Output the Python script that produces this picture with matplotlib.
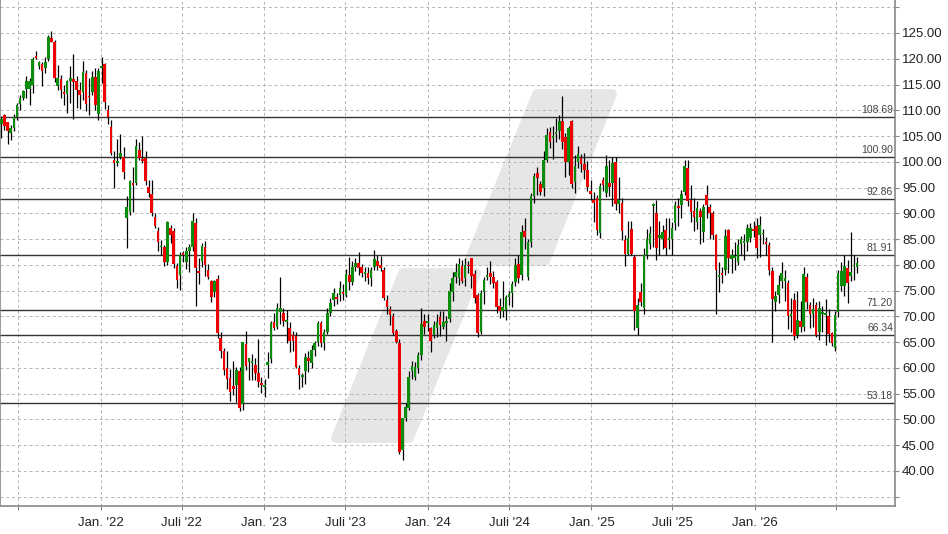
import numpy as np
import pandas as pd
import matplotlib
matplotlib.use('Agg')
import matplotlib.pyplot as plt
import matplotlib.dates as mdates
from matplotlib.patches import Polygon

# weekly OHLC
opens = [107.4, 109.1, 107.7, 105.5, 106.6, 108.7, 111.3, 112.3, 114.1, 114.1,
         114.9, 120.5, 118.5, 119.0, 118.3, 120.0, 124.1, 123.3, 114.8, 116.0,
         113.6, 113.2, 115.6, 116.1, 115.6, 113.9, 113.6, 117.3, 112.8, 113.6,
         116.5, 109.2, 118.3, 119.0, 110.1, 106.8, 100.4, 99.8, 100.9, 101.0,
         89.0, 90.3, 95.9, 95.8, 102.3, 100.6, 100.8, 95.1, 93.8, 89.2,
         86.5, 83.4, 83.4, 80.5, 87.1, 86.6, 79.7, 78.0, 82.2, 80.6,
         82.6, 83.5, 88.1, 78.9, 80.8, 83.5, 79.0, 76.9, 74.7, 77.3,
         65.9, 63.2, 59.9, 58.0, 56.5, 56.7, 59.4, 52.9, 64.6, 61.2,
         61.0, 60.6, 59.0, 57.0, 56.2, 60.6, 61.7, 69.0, 68.0, 70.8,
         70.6, 69.0, 67.8, 66.3, 66.1, 59.9, 58.3, 59.4, 61.9, 61.0,
         63.5, 65.1, 68.7, 64.8, 67.0, 70.6, 73.2, 73.8, 74.2, 74.8,
         74.2, 78.0, 76.6, 79.5, 80.4, 79.5, 78.2, 78.4, 77.5, 79.5,
         80.8, 80.0, 79.0, 73.2, 71.4, 70.1, 67.2, 64.9, 44.1, 50.2,
         52.3, 59.4, 58.3, 59.9, 62.6, 69.1, 68.75, 67.7, 66.4, 67.7,
         69.8, 68.0, 68.7, 69.4, 74.8, 77.6, 77.4, 79.7, 77.4, 80.0,
         81.3, 78.2, 74.2, 67.0, 74.8, 77.7, 78.4, 77.6, 76.6, 72.1,
         71.0, 71.2, 73.7, 74.5, 76.6, 80.1, 78.0, 86.6, 77.7, 84.5,
         93.4, 97.9, 95.7, 95.0, 100.4, 105.7, 104.7, 105.3, 105.9, 107.9,
         104.9, 100.0, 107.9, 96.0, 99.9, 100.8, 99.6, 98.4, 94.3, 92.6,
         92.9, 86.2, 96.5, 94.0, 95.9, 95.8, 100.0, 91.9, 92.1, 84.8,
         82.2, 87.0, 81.5, 67.8, 74.7, 71.7, 82.0, 84.0, 91.5, 90.1,
         85.2, 85.0, 86.8, 84.8, 85.0, 88.1, 91.5, 91.7, 94.2, 98.7,
         92.6, 90.5, 88.4, 90.5, 86.3, 93.6, 91.3, 90.0, 85.8, 77.7,
         78.4, 79.0, 86.8, 81.1, 81.3, 80.6, 84.0, 84.2, 84.5, 85.3,
         87.0, 87.6, 85.8, 85.9, 84.2, 83.9, 78.9, 72.7, 74.2, 76.9,
         76.9, 76.4, 70.1, 73.2, 66.4, 69.1, 68.0, 77.7, 72.3, 70.4,
         72.2, 67.0, 70.4, 70.3, 70.1, 66.7, 63.9, 70.9, 75.8, 75.8,
         79.3, 77.9, 79.7, 79.5]

highs = [108.8, 109.2, 107.8, 107.2, 109.2, 111.5, 113.0, 113.9, 116.7, 116.2,
         120.4, 121.5, 119.5, 119.3, 120.4, 124.6, 125.4, 123.6, 118.8, 116.9,
         114.9, 115.9, 118.5, 120.9, 116.7, 115.4, 119.6, 117.8, 116.3, 117.6,
         118.3, 118.2, 120.4, 119.1, 111.1, 108.1, 102.0, 104.4, 105.3, 102.8,
         93.4, 96.5, 98.9, 104.4, 103.9, 105.1, 102.0, 96.5, 96.5, 90.0,
         87.4, 84.8, 83.8, 88.6, 87.7, 87.2, 80.3, 82.5, 82.6, 83.5,
         84.0, 90.1, 89.0, 81.3, 84.3, 84.6, 80.2, 77.0, 77.0, 78.0,
         66.9, 63.8, 63.2, 59.7, 61.3, 60.2, 60.2, 65.1, 67.1, 62.0,
         62.7, 61.9, 65.6, 58.3, 57.9, 63.1, 69.2, 70.6, 72.5, 77.6,
         71.7, 71.3, 68.9, 67.2, 66.9, 60.6, 59.0, 62.8, 63.3, 64.5,
         65.2, 69.2, 69.2, 67.5, 71.6, 73.5, 75.6, 74.5, 76.8, 76.2,
         79.1, 81.6, 80.8, 81.3, 82.4, 80.2, 79.6, 79.6, 79.6, 82.8,
         82.0, 81.8, 79.6, 74.1, 72.0, 70.6, 67.6, 65.6, 50.2, 53.2,
         59.4, 61.4, 61.2, 63.0, 71.6, 70.4, 70.4, 68.0, 69.2, 70.4,
         71.1, 71.1, 70.1, 76.4, 78.6, 80.3, 81.3, 81.0, 81.3, 80.8,
         81.3, 79.0, 74.5, 75.1, 77.6, 79.6, 80.8, 78.9, 77.0, 73.5,
         76.8, 74.2, 75.0, 76.8, 81.3, 82.0, 87.8, 89.0, 85.0, 93.9,
         97.9, 99.0, 96.2, 102.0, 106.5, 106.7, 107.0, 108.5, 109.0, 112.7,
         105.6, 107.0, 108.2, 101.3, 103.1, 101.5, 101.7, 100.1, 96.5, 94.1,
         93.6, 95.8, 97.0, 101.3, 100.3, 101.0, 101.0, 97.0, 93.0, 85.8,
         88.5, 88.5, 82.0, 73.5, 76.4, 83.3, 87.0, 87.5, 92.0, 92.6,
         88.5, 87.8, 89.0, 89.0, 88.3, 92.3, 93.0, 94.5, 100.3, 100.3,
         95.5, 92.9, 92.3, 91.0, 91.8, 95.5, 91.8, 90.5, 86.0, 80.5,
         79.5, 86.9, 87.0, 83.0, 84.5, 85.0, 85.6, 86.0, 87.9, 88.1,
         88.5, 89.0, 89.4, 87.0, 85.5, 84.5, 79.5, 75.0, 78.0, 80.5,
         79.0, 77.0, 73.5, 74.5, 75.0, 73.0, 79.5, 78.5, 72.8, 73.5,
         72.8, 73.0, 72.0, 73.4, 71.5, 67.0, 71.0, 79.0, 80.5, 82.0,
         81.0, 86.4, 82.0, 81.5]

lows = [104.7, 106.2, 103.4, 104.2, 106.0, 108.1, 110.1, 112.0, 112.3, 111.0,
        113.3, 120.0, 118.0, 114.8, 117.2, 119.5, 123.2, 115.4, 114.0, 112.3,
        111.0, 109.4, 111.4, 108.3, 110.4, 110.3, 112.0, 109.9, 109.1, 113.0,
        110.1, 108.1, 115.2, 110.2, 107.3, 101.3, 94.9, 99.1, 100.5, 96.7,
        83.3, 89.7, 90.3, 95.5, 100.4, 99.7, 95.5, 93.2, 89.4, 87.1,
        82.6, 81.9, 79.8, 80.0, 84.2, 79.4, 75.6, 75.1, 80.5, 79.1,
        78.7, 82.6, 72.0, 76.2, 79.6, 77.8, 77.3, 72.7, 73.8, 65.9,
        62.0, 58.6, 56.0, 53.5, 54.8, 53.3, 51.7, 51.9, 59.6, 57.6,
        57.7, 57.6, 56.3, 55.2, 54.4, 58.0, 61.0, 67.3, 67.5, 68.5,
        68.2, 64.8, 63.0, 63.2, 60.0, 56.0, 56.3, 56.9, 59.2, 59.9,
        62.4, 64.3, 64.0, 63.5, 66.5, 70.0, 72.1, 72.4, 73.0, 73.1,
        73.8, 75.1, 76.0, 78.9, 78.0, 77.6, 76.9, 76.2, 75.9, 79.0,
        79.0, 78.9, 73.2, 70.5, 68.4, 66.3, 64.9, 43.2, 42.1, 49.6,
        51.9, 57.9, 57.7, 59.0, 61.5, 66.6, 67.1, 63.0, 65.9, 66.0,
        66.2, 67.5, 65.3, 69.0, 73.0, 76.4, 76.0, 76.4, 75.9, 78.5,
        75.5, 72.5, 66.0, 66.5, 72.4, 77.0, 76.3, 75.5, 70.6, 69.7,
        69.9, 69.3, 72.3, 71.8, 75.9, 76.5, 77.0, 83.0, 77.0, 83.4,
        92.1, 93.6, 93.5, 93.4, 99.9, 102.6, 100.5, 103.8, 104.4, 102.4,
        97.0, 97.5, 95.0, 93.9, 98.8, 98.0, 96.6, 94.4, 92.5, 88.4,
        85.8, 85.3, 94.4, 93.2, 93.4, 91.5, 90.6, 90.0, 84.9, 79.7,
        82.0, 82.0, 67.4, 66.4, 72.0, 70.5, 81.2, 83.0, 83.5, 81.0,
        82.0, 83.0, 82.0, 83.0, 82.0, 86.7, 87.5, 89.0, 93.5, 91.5,
        88.3, 86.5, 86.9, 84.0, 84.5, 89.0, 85.0, 85.0, 70.5, 74.8,
        76.5, 78.0, 78.4, 78.4, 79.0, 80.0, 82.0, 81.0, 82.6, 84.5,
        85.5, 81.3, 81.6, 84.0, 82.0, 78.0, 65.1, 71.0, 72.5, 75.5,
        73.0, 67.5, 67.0, 65.5, 65.8, 67.0, 67.2, 71.5, 67.7, 68.0,
        66.0, 65.4, 67.0, 64.5, 65.0, 64.3, 63.3, 69.8, 75.0, 74.0,
        72.5, 76.8, 77.0, 78.5]

closes = [108.4, 107.0, 105.9, 106.5, 108.6, 111.0, 112.3, 113.7, 115.6, 115.7,
          120.0, 120.1, 119.3, 117.7, 119.4, 124.3, 123.3, 116.2, 116.2, 113.9,
          113.2, 115.7, 116.2, 115.4, 113.9, 113.0, 117.5, 111.2, 112.5, 116.5,
          111.0, 117.6, 118.5, 111.6, 108.7, 101.7, 99.7, 100.2, 101.7, 98.0,
          91.3, 96.3, 95.5, 103.1, 100.8, 100.2, 96.2, 93.9, 90.0, 87.6,
          84.5, 83.7, 80.5, 88.3, 85.8, 80.2, 77.1, 81.9, 81.9, 82.7,
          83.4, 88.5, 79.3, 78.5, 83.7, 80.0, 77.7, 73.8, 76.9, 66.7,
          63.2, 59.6, 57.8, 55.3, 55.9, 59.6, 52.3, 65.1, 60.4, 61.9,
          61.2, 59.0, 57.3, 56.6, 56.7, 61.2, 68.8, 67.8, 71.6, 71.6,
          69.1, 69.3, 65.3, 65.3, 60.2, 58.7, 58.6, 62.1, 61.4, 63.5,
          64.9, 68.7, 64.8, 67.0, 70.6, 72.5, 74.5, 73.4, 75.5, 74.3,
          78.2, 76.6, 79.5, 80.3, 79.3, 78.4, 78.4, 77.4, 79.0, 81.2,
          79.8, 79.3, 73.5, 71.9, 70.3, 66.7, 65.1, 43.6, 50.2, 52.5,
          58.2, 60.4, 60.2, 62.6, 68.5, 68.0, 69.0, 65.2, 68.3, 69.0,
          68.3, 69.0, 69.1, 75.0, 77.5, 78.7, 80.1, 76.9, 80.0, 79.7,
          77.9, 73.6, 66.7, 74.5, 77.1, 78.0, 77.7, 76.4, 71.9, 71.1,
          71.9, 73.8, 74.3, 76.2, 80.0, 77.5, 86.4, 85.5, 84.5, 93.4,
          97.3, 96.8, 94.2, 100.4, 105.2, 103.9, 105.1, 105.7, 107.9, 103.8,
          99.9, 106.5, 95.7, 99.2, 101.5, 99.6, 98.4, 95.2, 93.8, 92.1,
          86.8, 95.3, 95.4, 99.2, 95.2, 99.8, 91.8, 92.5, 86.5, 82.2,
          85.3, 82.2, 71.1, 72.3, 72.7, 82.0, 85.0, 86.1, 91.8, 83.2,
          85.7, 86.4, 83.2, 85.2, 87.1, 91.7, 91.1, 93.7, 99.2, 92.3,
          90.3, 89.2, 91.0, 89.2, 91.3, 91.6, 90.0, 85.8, 79.0, 78.1,
          78.1, 85.6, 81.3, 81.9, 81.8, 83.9, 85.0, 84.5, 87.1, 87.2,
          86.6, 83.2, 87.7, 86.1, 84.0, 79.0, 73.4, 74.0, 76.1, 78.5,
          77.4, 70.1, 70.5, 66.1, 69.3, 67.9, 78.2, 72.7, 70.4, 71.4,
          66.4, 71.6, 70.8, 70.6, 66.5, 64.8, 70.3, 78.4, 78.8, 79.8,
          76.5, 78.7, 80.0, 80.4]

levels = [108.69, 100.90, 92.86, 81.91, 71.20, 66.34, 53.18]

xtick_dates = ['2021-07-01', '2022-01-01', '2022-07-01', '2023-01-01', '2023-07-01',
               '2024-01-01', '2024-07-01', '2025-01-01', '2025-07-01', '2026-01-01',
               '2026-07-01']
xtick_labels = ['', "Jan. '22", "Juli '22", "Jan. '23", "Juli '23", "Jan. '24",
                "Juli '24", "Jan. '25", "Juli '25", "Jan. '26", '']

plt.rcParams['font.family'] = ['Liberation Sans', 'DejaVu Sans']

o = np.array(opens)
c = np.array(closes)
h = np.maximum(np.array(highs), np.maximum(o, c))
l = np.minimum(np.array(lows), np.minimum(o, c))
dates = pd.date_range('2021-05-24', periods=len(closes), freq='7D')
x = mdates.date2num(dates)

W, H = 948, 534
AX_W, AX_H = 895, 506
fig = plt.figure(figsize=(W / 100, H / 100), dpi=100)
ax = fig.add_axes([0, (H - AX_H) / H, AX_W / W, AX_H / H])

# watermark (two slanted bars), pixel coords inside the axes
def px(pts):
    return [(a / AX_W, 1 - b / AX_H) for a, b in pts]

wm = '#e6e6e6'
for pts in [[(469, 261), (545, 261), (612, 94), (537, 94)],
            [(336, 438), (409, 438), (476, 273), (403, 273)]]:
    ax.add_patch(Polygon(px(pts), closed=True, transform=ax.transAxes,
                         facecolor=wm, edgecolor=wm, linewidth=7,
                         joinstyle='round', zorder=0.2))

# support / resistance lines
for lv in levels:
    ax.axhline(lv, color='#333333', linewidth=1.0, zorder=1.5)
    ax.annotate(f'{lv:.2f}', xy=(1, lv), xycoords=('axes fraction', 'data'),
                xytext=(-1.5, 1.5), textcoords='offset points',
                ha='right', va='bottom', fontsize=7.5, color='#444444', zorder=4)

# candles
up = c >= o
green = '#0b8c0b'
red = '#f00000'
ax.vlines(x, l, h, color='black', linewidth=0.9, zorder=2)
bottom = np.minimum(o, c)
height = np.maximum(np.abs(c - o), 0.35)
ax.bar(x[up], height[up], bottom=bottom[up], width=5.8, color=green,
       linewidth=0, zorder=3)
ax.bar(x[~up], height[~up], bottom=bottom[~up], width=5.8, color=red,
       linewidth=0, zorder=3)

ax.set_xlim(mdates.date2num(pd.Timestamp('2021-05-21')),
            mdates.date2num(pd.Timestamp('2026-11-10')))
ax.set_ylim(33.2, 131.4)

yt = np.arange(35, 131, 5)
ax.yaxis.tick_right()
ax.set_yticks(yt)
ax.set_yticklabels([f'{v:.2f}' if 40 <= v <= 125 else '' for v in yt])
ax.set_xticks(mdates.date2num(pd.to_datetime(xtick_dates)))
ax.set_xticklabels(xtick_labels)

ax.set_axisbelow(True)
ax.grid(True, color='#b4b4b4', linestyle=(0, (3, 3)), linewidth=0.7)
ax.tick_params(axis='y', length=3, pad=2, color='#888888',
               labelsize=9.5, labelcolor='#222222')
ax.tick_params(axis='x', length=3, pad=5, color='#888888',
               labelsize=9.5, labelcolor='#222222')
ax.spines['top'].set_visible(False)
for s in ['left', 'right', 'bottom']:
    ax.spines[s].set_color('#888888')
    ax.spines[s].set_linewidth(1.2)

fig.savefig('out.png', dpi=100)
